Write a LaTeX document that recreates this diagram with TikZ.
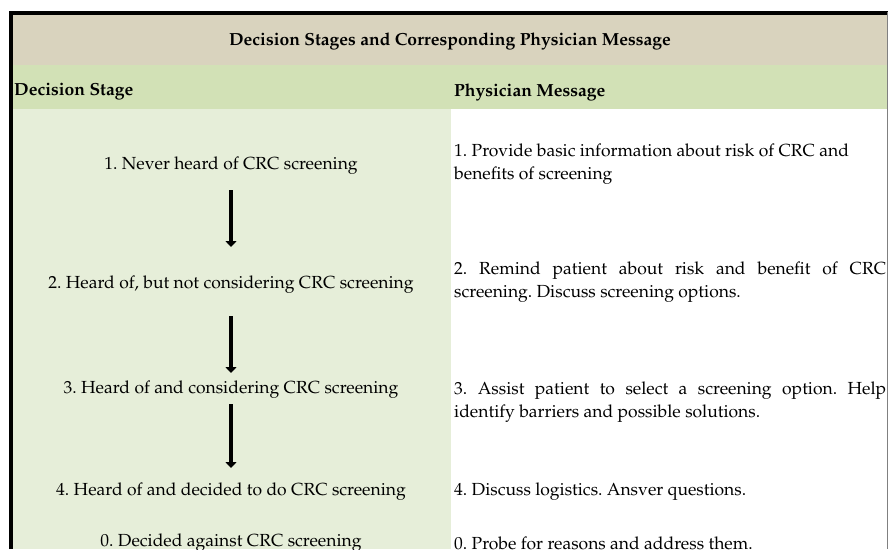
\documentclass[tikz,border=0pt]{standalone}
\usepackage[T1]{fontenc}
\usepackage{mathpazo}
\usetikzlibrary{arrows.meta}

\definecolor{titletan}{RGB}{217,211,190}
\definecolor{headgreen}{RGB}{210,225,182}
\definecolor{stagegreen}{RGB}{230,238,217}

\begin{document}
\begin{tikzpicture}[%
        x = 1pt, y = -1pt,
        > = {Triangle[width = 11pt, length = 6pt]},
        every node/.style = {inner sep = 0pt, font = \fontsize{17.5}{23}\selectfont\frenchspacing},
        stage/.style = {anchor = center, align = center},
        message/.style = {anchor = west, align = left},
        header/.style = {anchor = west, font = \fontsize{17.5}{23}\selectfont\bfseries},
        stagearrow/.style = {->, line width = 4pt}
    ]

        \useasboundingbox (0, 0) rectangle (889, 549);

        % Background bands of the table.
        \fill[titletan] (13, 14) rectangle (887, 65);
        \fill[headgreen] (13, 65) rectangle (887, 109);
        \fill[stagegreen] (13, 109) rectangle (451, 549);

        % Frame round the table.
        \draw[line width = 4pt] (11, 549) to (11, 12.5) to (888, 12.5);
        \draw[gray, line width = 1.2pt] (887.4, 12) to (887.4, 549);

        % Title and column heads.
        \node[font = \fontsize{17.5}{23}\selectfont\bfseries] (title) at (450, 41)
            {Decision Stages and Corresponding Physician Message};
        \node[header] (stagehead) at (14, 92) {Decision Stage};
        \node[header] (msghead) at (454, 92) {Physician Message};

        % The decision stages.
        \node[stage] (s1) at (231, 166) {1. Never heard of CRC screening};
        \node[stage] (s2) at (231, 285) {2. Heard of, but not considering CRC screening};
        \node[stage] (s3) at (231, 390) {3. Heard of and considering CRC screening};
        \node[stage] (s4) at (231, 492) {4. Heard of and decided to do CRC screening};
        \node[stage] (s0) at (231, 543) {0. Decided against CRC screening};

        % The physician messages.
        \node[message] (m1) at (454, 164)
            {1. Provide basic information about risk of CRC and\\benefits of screening};
        \node[message] (m2) at (454, 282)
            {\makebox[432pt][s]{2. Remind patient about risk and benefit of CRC}\\screening. Discuss screening options.};
        \node[message] (m3) at (454, 402)
            {\makebox[432pt][s]{3. Assist patient to select a screening option. Help}\\identify barriers and possible solutions.};
        \node[message] (m4) at (454, 492) {4. Discuss logistics. Ansver questions.};
        \node[message] (m0) at (454, 543) {0. Probe for reasons and address them.};

        % Arrows from one stage to the next.
        \draw[stagearrow, shorten < = 24pt, shorten > = 38pt] (s1.center) to (s2.center);
        \draw[stagearrow, shorten < = 31pt, shorten > = 17pt] (s2.center) to (s3.center);
        \draw[stagearrow, shorten < = 14pt, shorten > = 24pt] (s3.center) to (s4.center);
    \end{tikzpicture}
\end{document}
